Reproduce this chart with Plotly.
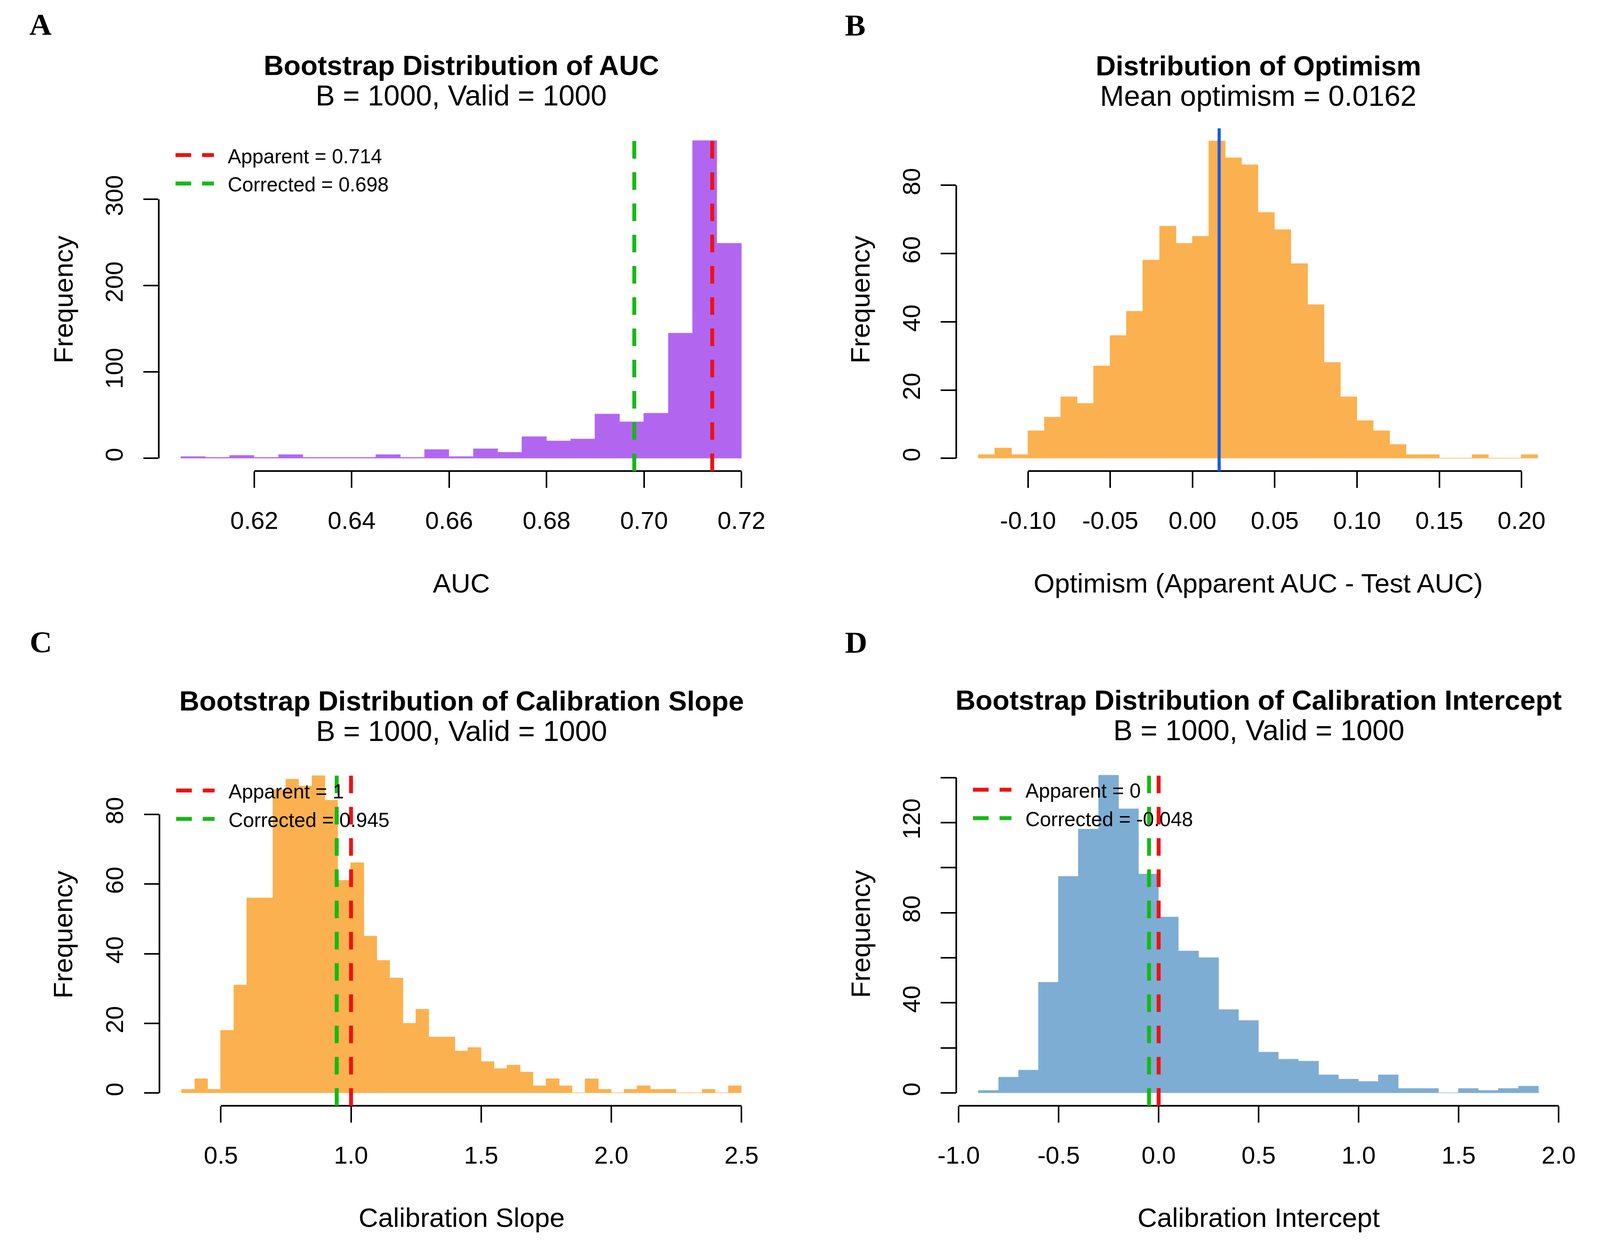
import plotly.graph_objects as go

# reference frame (px) used for layout fractions, and actual figure size (fits the 4096 px viewport)
RW, RH = 4752, 3195
FW, FH = 4080, 3179

# ---------------- data ----------------
# Panel A: bootstrap AUC
auc_bin_start = 0.605
auc_bin_width = 0.005
auc_counts = [2, 1, 3, 1, 4, 1, 1, 1, 4, 1, 10, 2, 11, 7, 25, 20, 22, 51, 42, 52, 145, 368, 249]
auc_apparent = 0.714
auc_corrected = 0.698
auc_xticks = [0.62, 0.64, 0.66, 0.68, 0.70, 0.72]
auc_xticklabels = ["0.62", "0.64", "0.66", "0.68", "0.70", "0.72"]
auc_yticks = [0, 100, 200, 300]
auc_yticklabels = ["0", "100", "200", "300"]

# Panel B: optimism
opt_bin_start = -0.13
opt_bin_width = 0.01
opt_counts = [1, 3, 1, 8, 12, 18, 16, 27, 36, 43, 58, 68, 63, 65, 93, 88, 86, 72, 67, 57,
              45, 28, 18, 11, 8, 4, 1, 1, 0, 0, 1, 0, 0, 1]
opt_mean = 0.0162
opt_xticks = [-0.10, -0.05, 0.00, 0.05, 0.10, 0.15, 0.20]
opt_xticklabels = ["-0.10", "-0.05", "0.00", "0.05", "0.10", "0.15", "0.20"]
opt_yticks = [0, 20, 40, 60, 80]
opt_yticklabels = ["0", "20", "40", "60", "80"]

# Panel C: calibration slope
slope_bin_start = 0.35
slope_bin_width = 0.05
slope_counts = [1, 4, 1, 18, 31, 56, 56, 87, 90, 88, 91, 84, 61, 66, 45, 38, 33, 20, 24, 16,
                16, 12, 13, 9, 7, 8, 6, 2, 4, 2, 0, 4, 1, 0, 1, 2, 1, 1, 0, 0, 1, 0, 2]
slope_apparent = 1
slope_corrected = 0.945
slope_xticks = [0.5, 1.0, 1.5, 2.0, 2.5]
slope_xticklabels = ["0.5", "1.0", "1.5", "2.0", "2.5"]
slope_yticks = [0, 20, 40, 60, 80]
slope_yticklabels = ["0", "20", "40", "60", "80"]

# Panel D: calibration intercept
int_bin_start = -0.9
int_bin_width = 0.1
int_counts = [1, 7, 10, 49, 96, 117, 141, 126, 97, 78, 63, 60, 37, 32, 18, 15, 14, 8, 6, 5,
              8, 2, 2, 0, 2, 1, 2, 3]
int_apparent = 0
int_corrected = -0.048
int_xticks = [-1.0, -0.5, 0.0, 0.5, 1.0, 1.5, 2.0]
int_xticklabels = ["-1.0", "-0.5", "0.0", "0.5", "1.0", "1.5", "2.0"]
int_yticks = [0, 20, 40, 60, 80, 100, 120, 140]
int_yticklabels = ["0", "", "40", "", "80", "", "120", ""]

# ---------------- style ----------------
PURPLE = "#B266F0"
ORANGE = "#FBB14F"
BLUE_BAR = "#7EADD3"
RED = "#EE1111"
GREEN = "#11BB11"
BLUE_LINE = "#1A5AE6"
FONT = "Liberation Sans, Arial, sans-serif"
SERIF = "Liberation Serif, Times New Roman, serif"
FS = 0.9          # font scale
AX_W = 4.2

def fx(p):
    return p / RW

def fy(p):
    return 1 - p / RH

def hx(n):
    return n * FW / RW

def vy(n):
    return n * FH / RH

panels = [
    dict(key="", letter="A", box=(417, 321, 2260, 1204), title="Bootstrap Distribution of AUC",
         sub="B = 1000, Valid = 1000", xlabel="AUC",
         start=auc_bin_start, width=auc_bin_width, counts=auc_counts, color=PURPLE,
         xt=auc_xticks, xtl=auc_xticklabels, yt=auc_yticks, ytl=auc_yticklabels,
         lines=[(auc_apparent, RED, "Apparent = 0.714"), (auc_corrected, GREEN, "Corrected = 0.698")],
         legend=True, letter_pos=(20, 54), ytitle_x=126),
    dict(key="2", letter="B", box=(2846, 322, 4686, 1204), title="Distribution of Optimism",
         sub="Mean optimism = 0.0162", xlabel="Optimism (Apparent AUC - Test AUC)",
         start=opt_bin_start, width=opt_bin_width, counts=opt_counts, color=ORANGE,
         xt=opt_xticks, xtl=opt_xticklabels, yt=opt_yticks, ytl=opt_yticklabels,
         lines=[(opt_mean, BLUE_LINE, None)], legend=False, letter_pos=(2505, 56), ytitle_x=2554),
    dict(key="3", letter="C", box=(419, 1956, 2260, 2837),
         title="Bootstrap Distribution of Calibration Slope",
         sub="B = 1000, Valid = 1000", xlabel="Calibration Slope",
         start=slope_bin_start, width=slope_bin_width, counts=slope_counts, color=ORANGE,
         xt=slope_xticks, xtl=slope_xticklabels, yt=slope_yticks, ytl=slope_yticklabels,
         lines=[(slope_apparent, RED, "Apparent = 1"), (slope_corrected, GREEN, "Corrected = 0.945")],
         legend=True, letter_pos=(22, 1643), ytitle_x=126),
    dict(key="4", letter="D", box=(2846, 1954, 4688, 2837),
         title="Bootstrap Distribution of Calibration Intercept",
         sub="B = 1000, Valid = 1000", xlabel="Calibration Intercept",
         start=int_bin_start, width=int_bin_width, counts=int_counts, color=BLUE_BAR,
         xt=int_xticks, xtl=int_xticklabels, yt=int_yticks, ytl=int_yticklabels,
         lines=[(int_apparent, RED, "Apparent = 0"), (int_corrected, GREEN, "Corrected = -0.048")],
         legend=True, letter_pos=(2505, 1644), ytitle_x=2554),
]

fig = go.Figure()
layout = dict(width=FW, height=FH, margin=dict(l=0, r=0, t=0, b=0),
              paper_bgcolor="white", plot_bgcolor="white", showlegend=False,
              bargap=0, font=dict(family=FONT, color="black"))
shapes = []
annotations = []

for p in panels:
    k = p["key"]
    xa = "x" + k
    ya = "y" + k
    l, t, r, b = p["box"]
    n = len(p["counts"])
    centers = [p["start"] + (i + 0.5) * p["width"] for i in range(n)]
    fig.add_trace(go.Bar(x=centers, y=p["counts"], width=[p["width"]] * n,
                         marker=dict(color=p["color"], line=dict(width=1, color=p["color"])),
                         xaxis=xa, yaxis=ya, hoverinfo="x+y"))
    span = n * p["width"]
    x0 = p["start"] - 0.04 * span
    x1 = p["start"] + span + 0.04 * span
    ymax = max(p["counts"])
    layout["xaxis" + k] = dict(domain=[fx(l), fx(r)], range=[x0, x1], anchor=ya,
                               showgrid=False, zeroline=False, showline=False,
                               ticks="outside", ticklen=vy(42), tickwidth=AX_W, tickcolor="black",
                               tickmode="array", tickvals=p["xt"], ticktext=p["xtl"],
                               tickfont=dict(size=70 * FS, family=FONT, color="black"),
                               ticklabelstandoff=30)
    layout["yaxis" + k] = dict(domain=[fy(b), fy(t)], range=[-0.04 * ymax, 1.04 * ymax],
                               anchor=xa, showgrid=False, zeroline=False, showline=False,
                               ticks="outside", ticklen=hx(45), tickwidth=AX_W, tickcolor="black",
                               tickmode="array", tickvals=p["yt"], ticktext=p["ytl"],
                               tickangle=-90,
                               tickfont=dict(size=70 * FS, family=FONT, color="black"),
                               ticklabelstandoff=28)
    # axis lines spanning first to last tick (R style)
    shapes.append(dict(type="line", xref=xa, yref=ya + " domain", x0=p["xt"][0], x1=p["xt"][-1],
                       y0=0, y1=0, line=dict(color="black", width=AX_W)))
    shapes.append(dict(type="line", xref=xa + " domain", yref=ya, x0=0, x1=0,
                       y0=p["yt"][0], y1=p["yt"][-1], line=dict(color="black", width=AX_W)))
    # reference lines
    for (val, col, lab) in p["lines"]:
        if lab is None:
            shapes.append(dict(type="line", xref=xa, yref=ya + " domain", x0=val, x1=val,
                               y0=0, y1=1, line=dict(color=col, width=8)))
        else:
            shapes.append(dict(type="line", xref=xa, yref=ya + " domain", x0=val, x1=val,
                               y0=0, y1=1, line=dict(color=col, width=10, dash="45px,35px")))
    # legend (R legend, bty = "n")
    if p["legend"]:
        for j, (val, col, lab) in enumerate(p["lines"]):
            yy = t + 70 + j * 73
            shapes.append(dict(type="line", xref="paper", yref="paper",
                               x0=fx(l + 51), x1=fx(l + 168), y0=fy(yy), y1=fy(yy),
                               line=dict(color=col, width=10, dash="40px,28px")))
            annotations.append(dict(text=lab, xref="paper", yref="paper", x=fx(l + 208),
                                    y=fy(yy + 3), xanchor="left", yanchor="middle",
                                    showarrow=False,
                                    font=dict(size=57 * FS, family=FONT, color="black")))
    cx = (l + r) / 2
    # titles
    annotations.append(dict(text="<b>" + p["title"] + "</b>", xref="paper", yref="paper",
                            x=fx(cx), y=fy(t - 161), xanchor="center", yanchor="middle",
                            showarrow=False, font=dict(size=79 * FS, family=FONT, color="black")))
    annotations.append(dict(text=p["sub"], xref="paper", yref="paper",
                            x=fx(cx), y=fy(t - 83), xanchor="center", yanchor="middle",
                            showarrow=False, font=dict(size=82 * FS, family=FONT, color="black")))
    # axis titles
    annotations.append(dict(text=p["xlabel"], xref="paper", yref="paper",
                            x=fx(cx), y=fy(b + 288), xanchor="center", yanchor="middle",
                            showarrow=False, font=dict(size=77 * FS, family=FONT, color="black")))
    annotations.append(dict(text="Frequency", xref="paper", yref="paper",
                            x=fx(p["ytitle_x"]), y=fy((t + b) / 2),
                            xanchor="center", yanchor="middle", textangle=-90,
                            showarrow=False, font=dict(size=77 * FS, family=FONT, color="black")))
    # panel letter
    lx, ly = p["letter_pos"]
    annotations.append(dict(text="<b>" + p["letter"] + "</b>", xref="paper", yref="paper",
                            x=fx(lx), y=fy(ly), xanchor="left", yanchor="middle",
                            showarrow=False, font=dict(size=88 * FS, family=SERIF, color="black")))

layout["shapes"] = shapes
layout["annotations"] = annotations
fig.update_layout(**layout)
fig.write_html("out.html")
